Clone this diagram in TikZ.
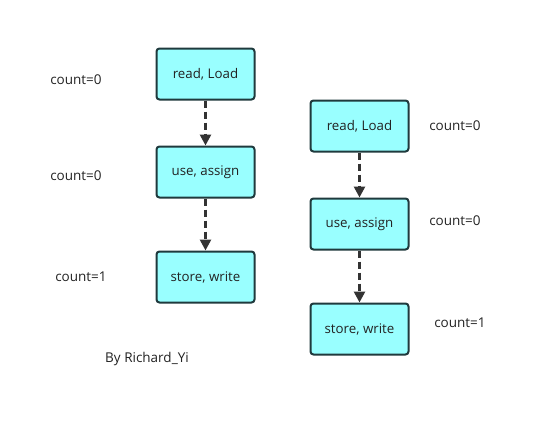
\documentclass[tikz,border=0pt]{standalone}
\usepackage{fontspec}
\setmainfont{Open Sans}
\usetikzlibrary{arrows.meta}
\definecolor{boxfill}{HTML}{99FFFF}
\definecolor{boxline}{HTML}{1F3A3D}
\definecolor{arr}{HTML}{333333}
\definecolor{txt}{HTML}{222222}
\begin{document}
\begin{tikzpicture}[x=1pt,y=-1pt,
  stepbox/.style={draw=boxline,line width=2pt,fill=boxfill,rounded corners=3pt,
    minimum width=98pt,minimum height=51pt,inner sep=0pt,font=\fontsize{13.3}{15}\selectfont,text=txt},
  lbl/.style={font=\fontsize{13.5}{15}\selectfont,text=txt,inner sep=0pt},
  flow/.style={draw=arr,line width=2.6pt,dash pattern=on 7pt off 4pt,
    -{Triangle[length=11pt,width=11pt]}}]
\useasboundingbox (0,0) rectangle (550,439);
\fill[white] (0,0) rectangle (550,439);
\node[stepbox] (a1) at (205.5,74) {read, Load};
\node[stepbox] (a2) at (205.5,172) {use, assign};
\node[stepbox] (a3) at (205.5,277) {store, write};
\node[stepbox] (b1) at (359.5,126) {read, Load};
\node[stepbox] (b2) at (359.5,224) {use, assign};
\node[stepbox] (b3) at (359.5,329) {store, write};
\draw[flow] (a1.south) -- (a2.north);
\draw[flow] (a2.south) -- (a3.north);
\draw[flow] (b1.south) -- (b2.north);
\draw[flow] (b2.south) -- (b3.north);
\node[lbl] (la1) at (76,80) {count=0};
\node[lbl] (la2) at (76,176) {count=0};
\node[lbl] (la3) at (81,277) {count=1};
\node[lbl] (lb1) at (455,126) {count=0};
\node[lbl] (lb2) at (455,221) {count=0};
\node[lbl] (lb3) at (460,323) {count=1};
\node[lbl] (by) at (147,359) {By Richard\_Yi};
\end{tikzpicture}
\end{document}
